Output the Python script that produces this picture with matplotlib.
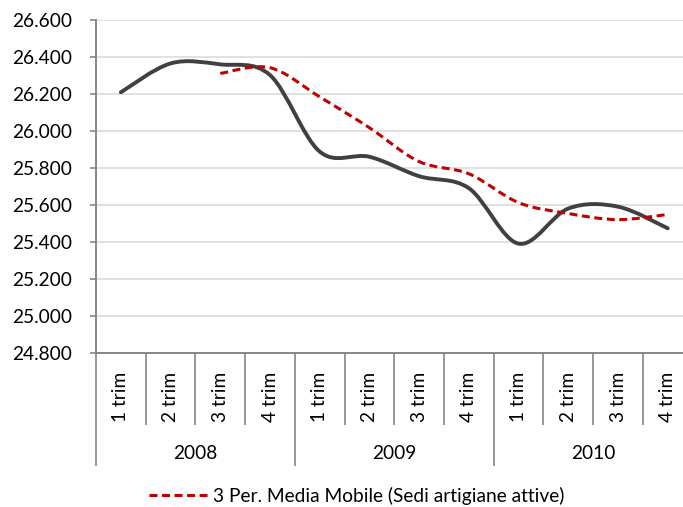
import matplotlib.pyplot as plt
import numpy as np
from matplotlib.path import Path
from matplotlib.patches import PathPatch
from matplotlib.lines import Line2D
from matplotlib.ticker import FuncFormatter, FixedLocator

plt.rcParams['font.family'] = ['Lato', 'DejaVu Sans']

# dati
years = ['2008', '2009', '2010']
quarters = ['1 trim', '2 trim', '3 trim', '4 trim']
sedi = [26209, 26365, 26360, 26302, 25888, 25860,
        25755, 25690, 25390, 25580, 25590, 25473]
# media mobile a 3 periodi (parte dal 3 trim 2008)
media_mobile = [26311, 26342, 26184, 26017, 25834, 25768,
                25612, 25553, 25520, 25548]
y_ticks = [24800, 25000, 25200, 25400, 25600, 25800, 26000, 26200, 26400, 26600]

FS = 13.8


def smooth_path(xs, ys):
    # curva tipo "linea smussata" di Excel (Bezier cubiche)
    pts = np.column_stack([xs, ys]).astype(float)
    n = len(pts)
    verts = [pts[0]]
    codes = [Path.MOVETO]
    for i in range(n - 1):
        p0 = pts[i - 1] if i > 0 else pts[i]
        p1 = pts[i]
        p2 = pts[i + 1]
        p3 = pts[i + 2] if i + 2 < n else pts[i + 1]
        verts += [p1 + (p2 - p0) / 6.0, p2 - (p3 - p1) / 6.0, p2]
        codes += [Path.CURVE4] * 3
    return Path(verts, codes)


fig = plt.figure(figsize=(6.83, 5.07), dpi=100)
ax = fig.add_axes([96 / 683, 1 - 352.7 / 507, 596.6 / 683, 332.7 / 507])

n = len(sedi)
x = np.arange(n)
ax.set_xlim(-0.5, n - 0.5)
ax.set_ylim(y_ticks[0], y_ticks[-1])

ax.add_patch(PathPatch(smooth_path(x, sedi), fill=False, edgecolor='#404040',
                       lw=2.8, capstyle='round', joinstyle='round', zorder=3))
ax.add_patch(PathPatch(smooth_path(x[2:], media_mobile), fill=False,
                       edgecolor='#C00000', lw=2.2, linestyle=(0, (2.6, 1.5)),
                       capstyle='butt', zorder=4))

# asse y
ax.set_yticks(y_ticks)
ax.yaxis.set_major_formatter(FuncFormatter(lambda v, p: '{:,.0f}'.format(v).replace(',', '.')))
ax.tick_params(axis='y', direction='out', length=4.5, width=1.2, color='#868686',
               pad=13, labelsize=FS, labelcolor='black')
ax.grid(axis='y', color='#d9d9d9', lw=1.1)
ax.set_axisbelow(True)

# asse x: separatori trimestri e anni
ax.xaxis.set_major_locator(FixedLocator([-0.5, 3.5, 7.5, 11.5]))
ax.xaxis.set_minor_locator(FixedLocator(np.arange(-0.5, n, 1.0)))
ax.tick_params(axis='x', which='major', direction='out', length=81.5, width=1.2,
               color='#868686', labelbottom=False)
ax.tick_params(axis='x', which='minor', direction='out', length=52, width=1.2,
               color='#868686', labelbottom=False)

for s in ['top', 'right']:
    ax.spines[s].set_visible(False)
for s in ['left', 'bottom']:
    ax.spines[s].set_color('#868686')
    ax.spines[s].set_linewidth(1.4)

trans = ax.get_xaxis_transform()
for i in range(n):
    ax.text(i, -0.133, quarters[i % 4], rotation=90, ha='center', va='center',
            fontsize=FS, transform=trans, clip_on=False)
for j, yr in enumerate(years):
    ax.text(j * 4 + 1.5, -0.3015, yr, ha='center', va='center',
            fontsize=FS, transform=trans, clip_on=False)

handle = Line2D([], [], color='#C00000', lw=2.2, linestyle=(0, (2.6, 1.5)))
fig.legend(handles=[handle], labels=['3 Per. Media Mobile (Sedi artigiane attive)'],
           loc='center', bbox_to_anchor=(357 / 683, 1 - 496 / 507), frameon=False,
           fontsize=FS, handlelength=3.0, handletextpad=0.35)

fig.savefig('out.png', dpi=100)
